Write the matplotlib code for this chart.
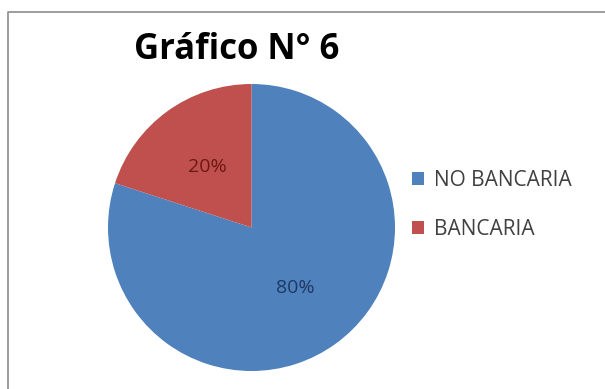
import matplotlib.pyplot as plt
from matplotlib.lines import Line2D

# datos del gráfico
etiquetas = ['NO BANCARIA', 'BANCARIA']
porcentajes = [80, 20]
colores = ['#4F81BD', '#C0504D']
colores_texto = ['#1F3864', '#6B1A12']

W, H = 605, 389
fig = plt.figure(figsize=(W / 100, H / 100), dpi=100)

# borde del área del gráfico (solo izquierda y arriba visibles)
fig.add_artist(Line2D([8 / W, 8 / W, 1], [0, 1 - 12 / H, 1 - 12 / H],
                      transform=fig.transFigure, color='#8c8c8c', lw=1.2))

# eje para la torta: centro (251, 227) px, radio ~143 px
r = 143.5
cx, cy = 251.5, H - 227.5
ax = fig.add_axes([(cx - r) / W, (cy - r) / H, 2 * r / W, 2 * r / H])
wedges, textos, autotextos = ax.pie(
    porcentajes, colors=colores, startangle=90, counterclock=False,
    autopct='%1.0f%%', pctdistance=0.52,
    textprops={'fontsize': 14, 'family': 'Open Sans'})
for t, c in zip(autotextos, colores_texto):
    t.set_color(c)
ax.set_xlim(-1, 1)
ax.set_ylim(-1, 1)
ax.axis('off')

fig.text(237 / W, 1 - 50 / H, 'Gráfico N° 6', ha='center', va='center',
         fontsize=25, fontweight='bold', family='Open Sans')

fig.legend(wedges, etiquetas, loc='upper left',
           bbox_to_anchor=(393 / W, 1 - 151 / H), frameon=False,
           prop={'family': 'Open Sans', 'size': 15},
           handlelength=0.6, handleheight=0.6, handletextpad=0.45,
           labelspacing=1.35, labelcolor='#404040')

fig.savefig('out.png', dpi=100)
